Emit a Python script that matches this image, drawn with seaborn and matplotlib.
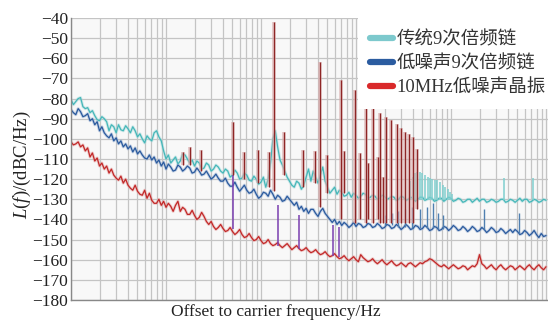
import matplotlib
matplotlib.use("Agg")
import matplotlib.pyplot as plt
import matplotlib.ticker as ticker
from matplotlib.lines import Line2D
import numpy as np
import pandas as pd
import seaborn as sns

# sample grid: 40 points per decade, 1 Hz .. 100 kHz
mantissa = [1.000, 1.059, 1.122, 1.189, 1.259, 1.334, 1.413, 1.496, 1.585, 1.679,
            1.778, 1.884, 1.995, 2.113, 2.239, 2.371, 2.512, 2.661, 2.818, 2.985,
            3.162, 3.350, 3.548, 3.758, 3.981, 4.217, 4.467, 4.732, 5.012, 5.309,
            5.623, 5.957, 6.310, 6.683, 7.079, 7.499, 7.943, 8.414, 8.913, 9.441]
freq = [m * 10 ** d for d in range(5) for m in mantissa] + [1.0e5]

trad_chain = [
    -80.5, -83, -81.5, -80, -79.5, -84, -85, -84.5, -87, -86,
    -88.5, -90.5, -91, -89, -90, -91.5, -96, -93, -94, -97,
    -93, -95.5, -96, -93.5, -95, -97, -94, -96, -99, -97.5,
    -100, -102, -98.5, -100, -101, -97, -96, -99, -101, -106,
    -110, -108, -112, -110.5, -109, -112.5, -111, -107.5, -108, -110,
    -112, -110.5, -113.5, -111, -112, -115, -114.5, -112, -113, -116,
    -115, -113, -114, -116, -117, -115, -116, -119, -118, -115.5,
    -117, -120, -119.5, -117, -118, -120.5, -121, -118.5, -120, -122.5,
    -121.5, -119, -124, -120, -112, -100, -96, -104, -110.5, -113,
    -116, -119, -121, -123, -124, -121, -122, -125, -123, -119,
    -115, -121, -116, -119, -122, -118, -114, -121, -124, -127,
    -125.5, -124, -127.5, -125.5, -126.5, -128.5, -128, -126.5, -129, -127,
    -128, -129.5, -128.5, -127, -127.5, -129.5, -129, -128, -128.5, -130,
    -129.5, -128, -128.5, -130, -129.5, -128.5, -129, -130.5, -130, -128.5,
    -129, -130.5, -130, -129, -129.5, -131, -130, -129, -129, -130.5,
    -130, -129, -129.5, -131, -130.5, -129.5, -129.5, -131, -130, -129,
    -129.5, -131, -130.5, -129.5, -130, -131.5, -131, -130, -130, -131.5,
    -130.5, -129.5, -131, -130, -130, -131.5, -131, -130, -130.5, -131.5,
    -131, -130, -130, -131.5, -131, -130, -130.5, -131.5, -130.5, -129.5,
    -131, -130, -130, -131.5, -131, -130, -130.5, -131.5, -131, -130,
    -130.5]

low_chain = [
    -85.5, -87, -88, -85, -86.5, -89, -88.5, -87.5, -91, -90,
    -93, -91.5, -96, -94, -97, -98.5, -99.5, -97.5, -101, -99.5,
    -102.5, -101, -104, -102.5, -105, -103.5, -106.5, -104.5, -107.5, -106,
    -108, -109.5, -110, -108, -110.5, -109, -112, -110.5, -113.5, -111.5,
    -115, -112.5, -114, -116, -115.5, -113, -114, -116, -115, -113.5,
    -114.5, -117, -116.5, -114.5, -116, -118, -117.5, -116, -118, -120,
    -119, -117.5, -119.5, -121, -121, -119.5, -122, -123.5, -123.5, -121.5,
    -124, -126, -124.5, -123, -125.5, -127, -126.5, -125, -127.5, -129.5,
    -128.5, -126.5, -127, -128.5, -125.5, -127.5, -130, -128, -129, -131,
    -130.5, -128.5, -130, -131.5, -133, -131.5, -135, -133.5, -136, -134.5,
    -137, -135, -135, -137, -138.5, -136, -134.5, -137, -138.5, -140,
    -141.5, -140, -142.5, -141, -143, -141.5, -142.5, -144, -143, -141.5,
    -143.5, -142, -142.5, -144, -143.5, -142, -142.5, -144, -143.5, -142,
    -143, -144.5, -144, -142.5, -143, -144.5, -144, -142.5, -143.5, -145,
    -144, -142.5, -143.5, -145, -144.5, -143, -143.5, -145, -144.5, -143,
    -144, -145.5, -145, -143.5, -144, -145.5, -145, -143.5, -144, -145.5,
    -144.5, -143, -144, -145.5, -145, -143.5, -144.5, -146, -145, -143.5,
    -144.5, -146, -145.5, -144, -145, -146.5, -145.5, -144, -145, -146.5,
    -146, -144.5, -145.5, -147, -146, -145, -146.5, -145, -146, -147.5,
    -147, -145.5, -146.5, -148, -147, -145.5, -147.5, -149, -147, -148.5,
    -148]

crystal = [
    -101.5, -103, -102.5, -101.5, -104, -103, -106, -104.5, -109, -107,
    -111, -109.5, -113.5, -112, -115, -113.5, -117, -115, -118, -119.5,
    -120.5, -118.5, -122, -120, -123, -124.5, -125.5, -123, -126, -127.5,
    -128, -125.5, -129.5, -127, -130.5, -132, -132, -130, -133, -131,
    -134, -132, -133.5, -136, -133, -131, -136, -134, -135, -137.5,
    -137.5, -135.5, -138, -140, -139, -136.5, -138.5, -141, -142.5, -141,
    -143.5, -145, -144, -142.5, -144.5, -146, -145.5, -144, -146, -147.5,
    -146.5, -145, -147.5, -149, -148.5, -147, -149, -150.5, -150, -148.5,
    -150.5, -152, -151.5, -150, -152, -153, -152.5, -151.5, -153, -154,
    -153, -152, -153.5, -155, -154, -153, -154.5, -155.5, -155, -154,
    -155.5, -156.5, -156, -155, -156.5, -157.5, -157, -156, -157.5, -158.5,
    -158, -157, -158.5, -159.5, -159, -158, -159.5, -160.5, -159.5, -158.5,
    -160, -161, -157.5, -159, -160, -161, -160.5, -159.5, -161, -162,
    -161, -160, -161.5, -162.5, -161.5, -160.5, -162, -163, -162.5, -161.5,
    -162.5, -163.5, -162, -161.5, -162.5, -163.5, -162.5, -161.5, -162, -161,
    -160.5, -159.5, -160, -161, -162, -163, -163.5, -162.5, -163.5, -164.5,
    -163.5, -162.5, -163.5, -164.5, -164, -163, -163.5, -165, -164, -163,
    -163.5, -162, -157.5, -162, -163, -164.5, -163.5, -162.5, -164, -165,
    -163.5, -162.5, -164, -165, -164, -163, -163.5, -165, -164, -163,
    -164, -165, -163.5, -162.5, -164, -165, -163.5, -162.5, -164, -165,
    -163.5]

# line spurs (dark red)
spur_freq = [15.1, 17.9, 23.4, 50.7, 66.2, 92.3, 122, 138, 175, 275,
             370, 418, 492, 695, 753, 975, 1102, 1259, 1337, 1510,
             1706, 1790, 1925, 2070, 2335, 2670, 2955, 3280, 3615, 3980, 4355]
spur_top = [-106.5, -104, -105.5, -91.5, -106.4, -105.5, -106.4, -41.8, -96.5, -105.5,
            -106, -61.7, -108, -70.8, -106, -75.8, -107, -79.7, -112, -84.5,
            -109, -87.2, -119, -89, -90.6, -92.7, -94.8, -96.5, -97.5, -99, -105]
spur_base = [-113, -113, -116, -118, -120, -122, -124, -126, -118, -124,
             -122, -134, -127, -140, -127, -142, -140, -142, -140, -142,
             -140, -142, -142, -142, -142, -142, -142, -142, -142, -142, -135]

# spurs reaching from the crystal floor (purple)
mix_freq = [50.7, 151, 253, 569, 667]
mix_top = [-118, -133, -138, -143, -144]
mix_base = [-145, -153, -154.5, -158, -158.5]

# comb on the traditional chain
trad_spur_freq = [3700, 3935, 4180, 4440, 4720, 5010, 5325, 5660, 6010, 6385,
                  6790, 7210, 7660, 8140, 8650, 9190, 9760, 10370, 36100, 73000]
trad_spur_top = [-121, -119, -117, -116.5, -116.5, -117, -118, -119, -119.5, -120,
                 -120.5, -120.5, -121.5, -123, -124, -125, -126.5, -127.5, -119.5, -119.5]

low_spur_freq = [2020, 2390, 2770, 3280, 3882, 4720, 5590, 6470, 7300, 8240, 22200, 52000]
low_spur_top = [-138, -137, -136, -135, -134, -135, -134, -132, -137, -138, -135, -137]
low_spur_base = [-143, -143, -144, -144, -144.5, -144.5, -144.5, -144.5, -145, -145, -145, -146.5]

labels = ["传统9次倍频链", "低噪声9次倍频链", "10MHz低噪声晶振"]
line_colors = ["#45b7b9", "#2a5a9e", "#c22828"]
halo_colors = ["#a6d9da", "#93acd0", "#e3a0a0"]
legend_colors = ["#7dc9cd", "#2b5ca0", "#d9292a"]

df = pd.DataFrame({"freq": freq, labels[0]: trad_chain,
                   labels[1]: low_chain, labels[2]: crystal})

sns.set_style("whitegrid")
plt.rcParams["font.family"] = ["Liberation Serif", "Noto Sans CJK SC"]
plt.rcParams["mathtext.fontset"] = "custom"
plt.rcParams["mathtext.it"] = "Liberation Serif:italic"
plt.rcParams["mathtext.rm"] = "Liberation Serif"

fig = plt.figure(figsize=(5.48, 3.23), dpi=100)
ax = fig.add_axes([0.1296, 0.0712, 0.8704, 0.8731])
ax.set_facecolor("#f8f8f8")

for lab, lc, hc in zip(labels, line_colors, halo_colors):
    sns.lineplot(data=df, x="freq", y=lab, ax=ax, color=hc, lw=2.2, alpha=0.5)
    sns.lineplot(data=df, x="freq", y=lab, ax=ax, color=lc, lw=0.9)

ax.vlines(trad_spur_freq, -130.5, trad_spur_top, color="#7fcfcf", lw=1.1)
ax.vlines(low_spur_freq, low_spur_base, low_spur_top, color="#4f7fb0", lw=1.0)
ax.vlines(mix_freq, mix_base, mix_top, color="#7a3fb0", lw=1.1)
ax.vlines(spur_freq, spur_base, spur_top, color="#d9abab", lw=2.6, alpha=0.7)
ax.vlines(spur_freq, spur_base, spur_top, color="#8e2626", lw=0.9)

ax.set_xscale("log")
ax.set_xlim(1, 1.05e5)
ax.set_ylim(-180, -40)
ax.yaxis.set_major_locator(ticker.MultipleLocator(10))
ax.xaxis.set_major_locator(ticker.LogLocator(base=10, numticks=10))
ax.xaxis.set_minor_locator(ticker.LogLocator(base=10, subs=np.arange(2, 10), numticks=20))
ax.xaxis.set_major_formatter(ticker.NullFormatter())
ax.xaxis.set_minor_formatter(ticker.NullFormatter())
ax.grid(True, which="major", color="#c4c4c4", lw=0.9)
ax.grid(True, which="minor", axis="x", color="#c4c4c4", lw=0.9)
ax.tick_params(axis="both", which="both", length=0, pad=2)
ax.tick_params(axis="y", labelsize=12.5, labelcolor="#222222")
for s in ["top", "right"]:
    ax.spines[s].set_visible(False)
for s in ["left", "bottom"]:
    ax.spines[s].set_color("#888888")
    ax.spines[s].set_linewidth(1.0)

ax.set_xlabel("Offset to carrier frequency/Hz", fontsize=12.5, color="#222222", va="top")
ax.xaxis.set_label_coords(0.43, -0.015)
ax.set_ylabel(r"$\mathit{L}$($\mathit{f}$)/(dBC/Hz)", fontsize=13.5, color="#222222")
ax.yaxis.set_label_coords(-0.079, 0.48)

handles = [Line2D([], [], color=c, lw=4.5) for c in legend_colors]
leg = ax.legend(handles, labels, loc="upper right", bbox_to_anchor=(1.022, 1.0),
                fontsize=13.3, frameon=True, framealpha=1.0, facecolor="white",
                edgecolor="none", borderaxespad=0.0, handlelength=1.2,
                handletextpad=0.2, labelspacing=0.36, borderpad=0.7, fancybox=False)
for t in leg.get_texts():
    t.set_color("#333333")

fig.savefig("out.png", dpi=100)
